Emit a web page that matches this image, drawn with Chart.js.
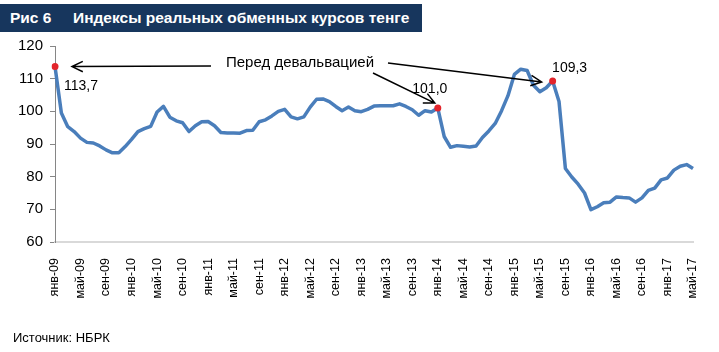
<!DOCTYPE html>
<html>
<head>
<meta charset="utf-8">
<script src="https://cdn.jsdelivr.net/npm/chart.js@4"></script>
<style>
  body { margin: 0; background: #fff; }
  #wrap { position: relative; width: 719px; height: 352px; font-family: "Liberation Sans", Arial, sans-serif; }
  #title { position: absolute; left: 0; top: 4px; width: 422px; height: 28px; background: #17365D; color: #fff;
           font-weight: bold; font-size: 15.5px; line-height: 28px; white-space: nowrap; }
  #title span { position: absolute; }
  #source { position: absolute; left: 13px; top: 330px; font-size: 13px; color: #000; }
  canvas { position: absolute; left: 0; top: 0; }
</style>
</head>
<body>
<div id="wrap">
  <canvas id="myChart" width="719" height="352"></canvas>
  <div id="title"><span style="left:10px">Рис 6</span><span style="left:73px">Индексы реальных обменных курсов тенге</span></div>
  <div id="source">Источник: НБРК</div>
</div>
<script>
const monthNames = ["янв", "фев", "мар", "апр", "май", "июн", "июл", "авг", "сен", "окт", "ноя", "дек"]
const years = ["09", "10", "11", "12", "13", "14", "15", "16", "17"]
const lastYearMonths = 5

const labels = []
years.forEach((y, yi) => {
    const count = yi === years.length - 1 ? lastYearMonths : 12
    for (let m = 0; m < count; m++) labels.push(monthNames[m] + "-" + y)
})

// индекс реального эффективного курса, янв-09 ... май-17
const reer = [
    113.7, 99.5, 95.3, 93.8, 91.8, 90.5, 90.3, 89.4, 88.2, 87.3, 87.3, 89.2,
    91.4, 93.8, 94.7, 95.4, 99.8, 101.5, 98.2, 97.1, 96.5, 93.8, 95.6, 96.8,
    96.9, 95.6, 93.5, 93.4, 93.4, 93.3, 94.1, 94.2, 96.8, 97.4, 98.6, 100.0,
    100.6, 98.3, 97.7, 98.3, 101.3, 103.7, 103.8, 103.0, 101.5, 100.2, 101.3, 100.2,
    99.9, 100.6, 101.6, 101.7, 101.7, 101.7, 102.3, 101.5, 100.5, 98.8, 100.2, 99.8,
    101.0, 92.3, 89.0, 89.5, 89.3, 89.1, 89.4, 92.0, 94.0, 96.3, 100.2, 104.8,
    111.3, 112.9, 112.5, 108.0, 106.0, 107.2, 109.3, 103.0, 82.5, 79.9, 77.7, 75.0,
    69.9, 70.8, 72.0, 72.2, 73.8, 73.6, 73.5, 72.2, 73.5, 75.8, 76.5, 79.0,
    79.6, 82.0, 83.2, 83.7, 82.5
]

const highlighted = [0, 60, 78]
const highlightText = ["113,7", "101,0", "109,3"]
const yTicks = [60, 70, 80, 90, 100, 110, 120]
const annotationText = "Перед девальвацией"

const drawArrow = (ctx, x1, y1, x2, y2) => {
    const ang = Math.atan2(y2 - y1, x2 - x1)
    const len = 12
    ctx.beginPath()
    ctx.moveTo(x1, y1)
    ctx.lineTo(x2, y2)
    ctx.moveTo(x2 - len * Math.cos(ang - 0.45), y2 - len * Math.sin(ang - 0.45))
    ctx.lineTo(x2, y2)
    ctx.lineTo(x2 - len * Math.cos(ang + 0.45), y2 - len * Math.sin(ang + 0.45))
    ctx.stroke()
}

const annotations = {
    id: "annotations",
    afterDatasetsDraw(chart) {
        const ctx = chart.ctx
        const meta = chart.getDatasetMeta(0)
        const pts = highlighted.map(i => meta.data[i])
        ctx.save()
        ctx.font = "14px 'Liberation Sans', Arial, sans-serif"
        ctx.fillStyle = "#000"
        ctx.textBaseline = "middle"
        ctx.textAlign = "left"
        ctx.fillText(highlightText[0], pts[0].x + 9, pts[0].y + 20)
        ctx.textAlign = "center"
        ctx.fillText(highlightText[1], pts[1].x - 8, pts[1].y - 19)
        ctx.fillText(highlightText[2], pts[2].x + 17, pts[2].y - 13)

        ctx.font = "15px 'Liberation Sans', Arial, sans-serif"
        ctx.fillText(annotationText, 300, 63)

        ctx.strokeStyle = "#000"
        ctx.lineWidth = 1.5
        drawArrow(ctx, 211, 66, pts[0].x + 17, pts[0].y)
        drawArrow(ctx, 373, 73, pts[1].x - 3, pts[1].y - 5)
        drawArrow(ctx, 388, 63, pts[2].x - 11, pts[2].y + 1)
        ctx.restore()
    }
}

const ctx = document.querySelector("#myChart").getContext("2d")

new Chart(ctx, {
    type: "line",
    data: {
        labels: labels,
        datasets: [{
            data: reer,
            borderColor: "#4A7EBB",
            borderWidth: 3.5,
            borderJoinStyle: "round",
            tension: 0,
            pointRadius: (c) => highlighted.includes(c.dataIndex) ? 3.5 : 0,
            pointBackgroundColor: "#E3242B",
            pointBorderWidth: 0,
            pointHoverRadius: 0
        }]
    },
    options: {
        responsive: false,
        animation: false,
        layout: { padding: { left: 0, right: 26, top: 46, bottom: 0 } },
        scales: {
            x: {
                offset: false,
                grid: { display: false },
                border: { display: true, color: "#D9D9D9", width: 2 },
                ticks: {
                    autoSkip: false,
                    maxRotation: 90,
                    minRotation: 90,
                    padding: 8,
                    color: "#000",
                    font: { family: "'Liberation Sans', Arial, sans-serif", size: 12.5 },
                    callback: (val, i) => i % 4 === 0 ? labels[i] : ""
                },
                afterFit: (s) => { s.height = 110 }
            },
            y: {
                min: yTicks[0],
                max: yTicks[yTicks.length - 1],
                afterBuildTicks: (s) => { s.ticks = yTicks.map(v => ({ value: v })) },
                grid: { drawOnChartArea: false, drawTicks: true, tickLength: 5, color: "#868686" },
                border: { display: true, color: "#868686", width: 1 },
                ticks: {
                    padding: 7,
                    color: "#000",
                    font: { family: "'Liberation Sans', Arial, sans-serif", size: 15 }
                },
                afterFit: (s) => { s.width = 55 }
            }
        },
        plugins: {
            legend: { display: false },
            tooltip: { enabled: false }
        }
    },
    plugins: [annotations]
})
</script>
</body>
</html>
